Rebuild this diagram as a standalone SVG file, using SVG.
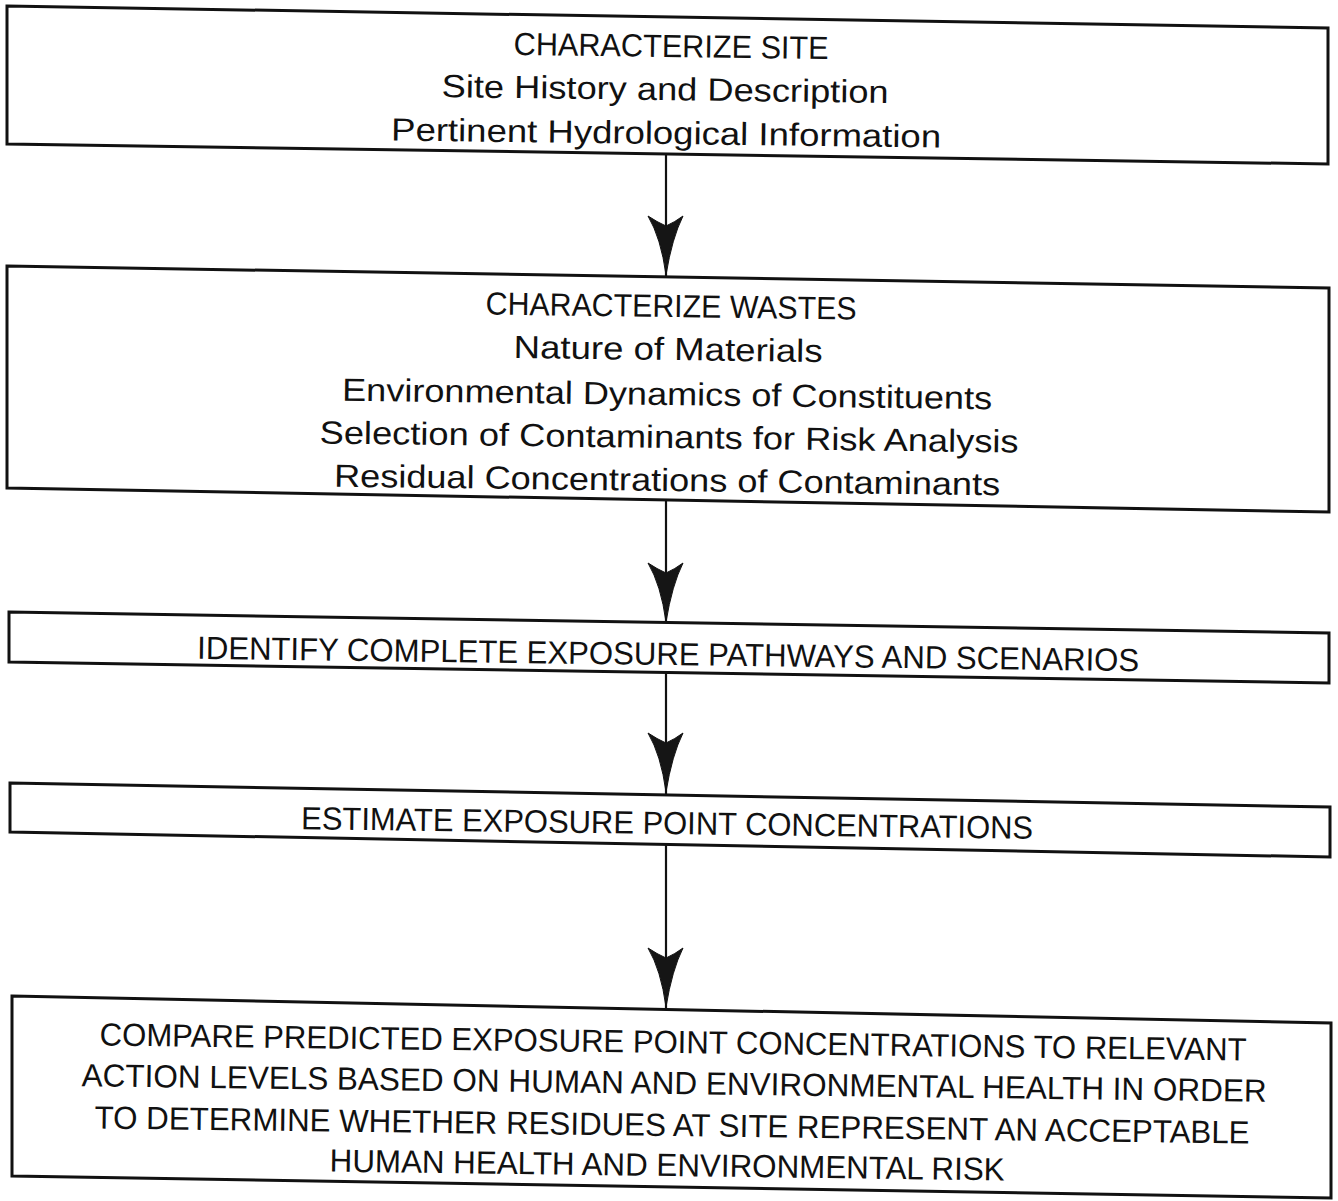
<svg xmlns="http://www.w3.org/2000/svg" width="1338" height="1201" viewBox="0 0 1338 1201">
<style>
.box{fill:#fff;stroke:#111;stroke-width:3;stroke-linejoin:miter}
.t{font-family:"Liberation Sans",Arial,sans-serif;font-size:32px;fill:#111;text-anchor:middle}
.ln{stroke:#111;stroke-width:2.2;fill:none}
.ah{fill:#151515;stroke:#111;stroke-width:1}
</style>
<defs>
<path id="head" d="M-18,0 Q-9,6 0,10 Q9,6 17,0 Q6,22 0,59 Q-5,22 -18,0 Z"/>
</defs>
<rect width="1338" height="1201" fill="#fff"/>
<g id="connectors">
  <line class="ln" x1="666" y1="155" x2="666" y2="277"/>
  <use href="#head" class="ah" x="666" y="216"/>
  <line class="ln" x1="666" y1="500" x2="666" y2="623"/>
  <use href="#head" class="ah" x="666" y="563"/>
  <line class="ln" x1="666" y1="672" x2="666" y2="795"/>
  <use href="#head" class="ah" x="666" y="733"/>
  <line class="ln" x1="666" y1="844" x2="666" y2="1010"/>
  <use href="#head" class="ah" x="666" y="948"/>
</g>
<g id="node1">
  <polygon class="box" points="7,6 1328,28 1328,164 7,144"/>
  <text class="t" x="671" y="57" textLength="315" lengthAdjust="spacingAndGlyphs" transform="rotate(0.75 671 57)">CHARACTERIZE SITE</text>
  <text class="t" x="665" y="100" textLength="447" lengthAdjust="spacingAndGlyphs" transform="rotate(0.75 665 100)">Site History and Description</text>
  <text class="t" x="666" y="144" textLength="550" lengthAdjust="spacingAndGlyphs" transform="rotate(0.75 666 144)">Pertinent Hydrological Information</text>
</g>
<g id="node2">
  <polygon class="box" points="7,266 1329,288 1329,512 7,488"/>
  <text class="t" x="671" y="317" textLength="371" lengthAdjust="spacingAndGlyphs" transform="rotate(0.75 671 317)">CHARACTERIZE WASTES</text>
  <text class="t" x="668" y="360" textLength="309" lengthAdjust="spacingAndGlyphs" transform="rotate(0.75 668 360)">Nature of Materials</text>
  <text class="t" x="667" y="405" textLength="650" lengthAdjust="spacingAndGlyphs" transform="rotate(0.75 667 405)">Environmental Dynamics of Constituents</text>
  <text class="t" x="669" y="448" textLength="699" lengthAdjust="spacingAndGlyphs" transform="rotate(0.75 669 448)">Selection of Contaminants for Risk Analysis</text>
  <text class="t" x="667" y="491" textLength="666" lengthAdjust="spacingAndGlyphs" transform="rotate(0.75 667 491)">Residual Concentrations of Contaminants</text>
</g>
<g id="node3">
  <polygon class="box" points="9,612 1329,633 1329,683 9,662"/>
  <text class="t" x="668" y="665" textLength="942" lengthAdjust="spacingAndGlyphs" transform="rotate(0.75 668 665)">IDENTIFY COMPLETE EXPOSURE PATHWAYS AND SCENARIOS</text>
</g>
<g id="node4">
  <polygon class="box" points="10,783 1330,807 1330,857 10,832"/>
  <text class="t" x="667" y="834" textLength="732" lengthAdjust="spacingAndGlyphs" transform="rotate(0.75 667 834)">ESTIMATE EXPOSURE POINT CONCENTRATIONS</text>
</g>
<g id="node5">
  <polygon class="box" points="12,996 1331,1023 1331,1198 12,1176"/>
  <text class="t" x="673" y="1053" textLength="1147" lengthAdjust="spacingAndGlyphs" transform="rotate(0.75 673 1053)">COMPARE PREDICTED EXPOSURE POINT CONCENTRATIONS TO RELEVANT</text>
  <text class="t" x="674" y="1094" textLength="1185" lengthAdjust="spacingAndGlyphs" transform="rotate(0.75 674 1094)">ACTION LEVELS BASED ON HUMAN AND ENVIRONMENTAL HEALTH IN ORDER</text>
  <text class="t" x="672" y="1136" textLength="1155" lengthAdjust="spacingAndGlyphs" transform="rotate(0.75 672 1136)">TO DETERMINE WHETHER RESIDUES AT SITE REPRESENT AN ACCEPTABLE</text>
  <text class="t" x="667" y="1176" textLength="675" lengthAdjust="spacingAndGlyphs" transform="rotate(0.75 667 1176)">HUMAN HEALTH AND ENVIRONMENTAL RISK</text>
</g>
</svg>
